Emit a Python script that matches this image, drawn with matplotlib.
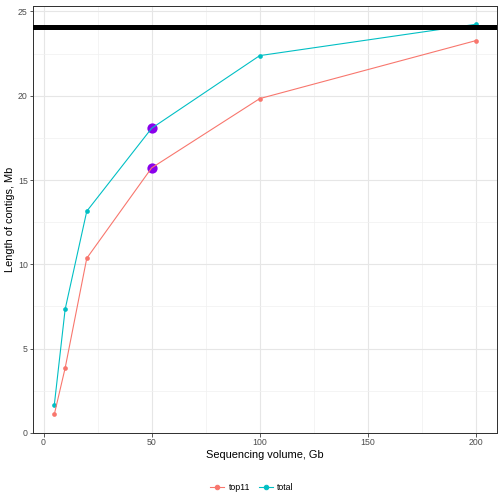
import matplotlib
matplotlib.use("Agg")
import matplotlib.pyplot as plt
from matplotlib.ticker import MultipleLocator
from matplotlib.lines import Line2D

plt.rcParams["font.family"] = ["Liberation Sans", "DejaVu Sans"]

# Sequencing volume (Gb) vs contig length (Mb)
volume = [5, 10, 20, 50, 100, 200]
top11 = [1.11, 3.85, 10.36, 15.72, 19.83, 23.27]
total = [1.68, 7.34, 13.15, 18.07, 22.38, 24.24]
highlight_x = [50, 50]
highlight_y = [15.72, 18.07]
ref_line = 24.1

red = "#F8766D"
teal = "#00BFC4"

fig = plt.figure(figsize=(7, 7), dpi=72)
ax = fig.add_axes([0.066, 0.141, 0.920, 0.848])

# points first, then the purple highlights, lines on top
ax.scatter(volume, top11, s=22, color=red, zorder=3, linewidths=0)
ax.scatter(volume, total, s=22, color=teal, zorder=3, linewidths=0)
ax.scatter(highlight_x, highlight_y, s=105, color="#8A00EC", zorder=3.5, linewidths=0)
ax.plot(volume, top11, color=red, linewidth=1.1, zorder=4)
ax.plot(volume, total, color=teal, linewidth=1.1, zorder=4)
ax.axhline(ref_line, color="black", linewidth=5, zorder=5)

ax.set_xlim(-4.75, 209.75)
ax.set_ylim(0, 25.35)
ax.xaxis.set_major_locator(MultipleLocator(50))
ax.xaxis.set_minor_locator(MultipleLocator(25))
ax.yaxis.set_major_locator(MultipleLocator(5))
ax.yaxis.set_minor_locator(MultipleLocator(2.5))

ax.grid(which="major", color="#E6E6E6", linewidth=1.1, zorder=0)
ax.grid(which="minor", color="#F0F0F0", linewidth=0.7, zorder=0)
ax.set_axisbelow(True)

for sp in ax.spines.values():
    sp.set_color("#333333")
    sp.set_linewidth(1.0)

ax.tick_params(which="major", direction="out", length=3.5, width=0.8, color="#333333",
               labelsize=8.8, labelcolor="#4D4D4D", pad=2)
ax.tick_params(which="minor", length=0)

ax.set_xlabel("Sequencing volume, Gb", fontsize=11, labelpad=3)
ax.set_ylabel("Length of contigs, Mb", fontsize=11, labelpad=3)

handles = [Line2D([], [], color=red, linewidth=1.1, marker="o", markersize=4.5),
           Line2D([], [], color=teal, linewidth=1.1, marker="o", markersize=4.5)]
fig.legend(handles=handles, labels=["top11", "total"], loc="center",
           bbox_to_anchor=(0.5, 0.033), ncol=2, frameon=False, fontsize=8.8,
           handlelength=1.6, columnspacing=1.0, handletextpad=0.5)

fig.savefig("out.png", dpi=72)
